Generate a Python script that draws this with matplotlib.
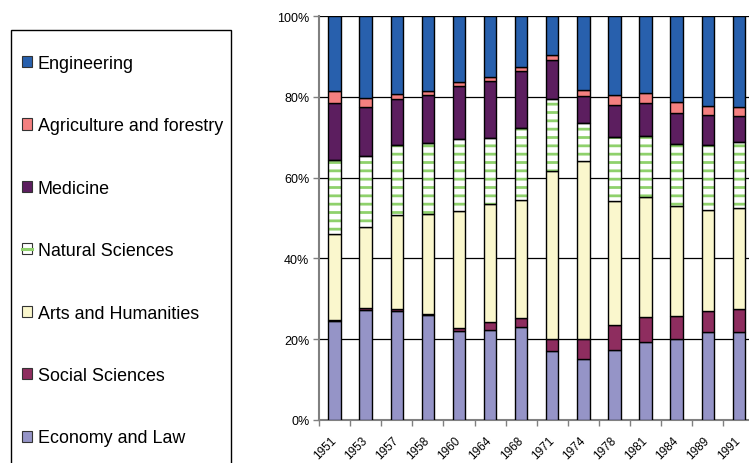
import matplotlib
matplotlib.use("Agg")
import matplotlib.pyplot as plt
from matplotlib.patches import Rectangle, Patch
from matplotlib.lines import Line2D
from matplotlib.legend_handler import HandlerTuple
from matplotlib.transforms import ScaledTranslation
import numpy as np

plt.rcParams['font.family'] = ['Liberation Sans', 'DejaVu Sans']
plt.rcParams['hatch.linewidth'] = 2.0

years = ["1951", "1953", "1957", "1958", "1960", "1964", "1968",
         "1971", "1974", "1978", "1981", "1984", "1989", "1991"]

economy_law = [24.4, 27.3, 26.9, 25.9, 22.0, 22.4, 22.9, 17.2, 15.2, 17.4, 19.2, 20.1, 21.7, 21.9]
social_sciences = [0.4, 0.3, 0.5, 0.4, 0.7, 1.8, 2.3, 2.8, 4.9, 6.0, 6.4, 5.6, 5.4, 5.6]
arts_humanities = [21.2, 20.1, 23.3, 24.8, 29.0, 29.2, 29.2, 41.6, 43.9, 30.8, 29.5, 27.3, 25.0, 24.9]
natural_sciences = [18.4, 17.7, 17.3, 17.5, 17.8, 16.3, 18.0, 17.9, 9.6, 15.8, 15.3, 15.4, 16.0, 16.5]
medicine = [14.0, 12.0, 11.4, 11.8, 13.1, 14.2, 14.0, 9.5, 6.5, 8.0, 8.0, 7.6, 7.3, 6.3]
agriculture = [3.0, 2.3, 1.2, 1.1, 1.1, 1.1, 1.1, 1.4, 1.5, 2.5, 2.6, 2.6, 2.4, 2.3]
engineering = [18.6, 20.3, 19.4, 18.5, 16.3, 15.0, 12.5, 9.6, 18.4, 19.5, 19.0, 21.4, 22.2, 22.5]

series = [
    ("Economy and Law", economy_law, "#9594C7", None),
    ("Social Sciences", social_sciences, "#8E2D5F", None),
    ("Arts and Humanities", arts_humanities, "#FAF7CD", None),
    ("Natural Sciences", natural_sciences, "white", "--"),
    ("Medicine", medicine, "#5C1E5F", None),
    ("Agriculture and forestry", agriculture, "#F48080", None),
    ("Engineering", engineering, "#2860AD", None),
]
hatch_green = "#8FD16C"

W, H = 749, 464
fig = plt.figure(figsize=(W / 100, H / 100), dpi=100)
ax = fig.add_axes([319 / W, (H - 421) / H, 14 * 31.1 / W, 404 / H])

x = np.arange(len(years))
bw = 0.4
bottom = np.zeros(len(years))
handles = []
for name, vals, color, hatch in series:
    vals = np.array(vals, dtype=float)
    if hatch:
        ax.bar(x, vals, bw, bottom=bottom, color=color, edgecolor=hatch_green,
               hatch=hatch, linewidth=0, zorder=3)
        ax.bar(x, vals, bw, bottom=bottom, facecolor="none", edgecolor="black",
               linewidth=1.0, zorder=4)
        h = (Patch(facecolor="white", edgecolor="#333333", linewidth=0.8),
             Line2D([], [], color=hatch_green, linewidth=2.2))
    else:
        ax.bar(x, vals, bw, bottom=bottom, color=color, edgecolor="black",
               linewidth=1.0, zorder=3)
        h = Patch(facecolor=color, edgecolor="#333333", linewidth=0.8)
    handles.append((name, h))
    bottom += vals

ax.set_xlim(-0.5, len(years) - 0.5)
ax.set_ylim(0, 100)
ax.set_yticks(np.arange(0, 101, 20))
ax.set_yticklabels([f"{v}%" for v in range(0, 101, 20)], fontsize=9)
ax.yaxis.grid(True, color="black", linewidth=0.9)
ax.set_axisbelow(True)

ax.set_xticks(x)
ax.set_xticklabels(years, rotation=45, ha="right", va="center",
                   rotation_mode="anchor", fontsize=8.5)
offset = ScaledTranslation(-7 / 100, 0, fig.dpi_scale_trans)
for lbl in ax.get_xticklabels():
    lbl.set_transform(lbl.get_transform() + offset)
ax.set_xticks(np.arange(-0.5, len(years), 1), minor=True)
ax.tick_params(axis="x", which="major", length=0, pad=13)
ax.tick_params(axis="x", which="minor", length=4, color="#808080", width=1)
ax.tick_params(axis="y", length=4, color="#808080", width=1, pad=3)

for s in ["top", "right"]:
    ax.spines[s].set_visible(False)
for s in ["left", "bottom"]:
    ax.spines[s].set_color("#808080")
    ax.spines[s].set_linewidth(1.5)

# legend frame
fig.patches.append(Rectangle((11 / W, -0.05), (231 - 11) / W, (H - 31) / H + 0.05,
                             transform=fig.transFigure, facecolor="white",
                             edgecolor="black", linewidth=1.0, zorder=0))
hs = list(reversed(handles))
leg = fig.legend([h for _, h in hs], [n for n, _ in hs], loc="upper left",
                 bbox_to_anchor=(13 / W, 1 - 47 / H), frameon=False,
                 fontsize=12.9, borderpad=0, labelspacing=2.535,
                 handlelength=0.58, handleheight=0.58, handletextpad=0.3,
                 handler_map={tuple: HandlerTuple(ndivide=1, pad=0)})

fig.savefig("out.png", dpi=100)
